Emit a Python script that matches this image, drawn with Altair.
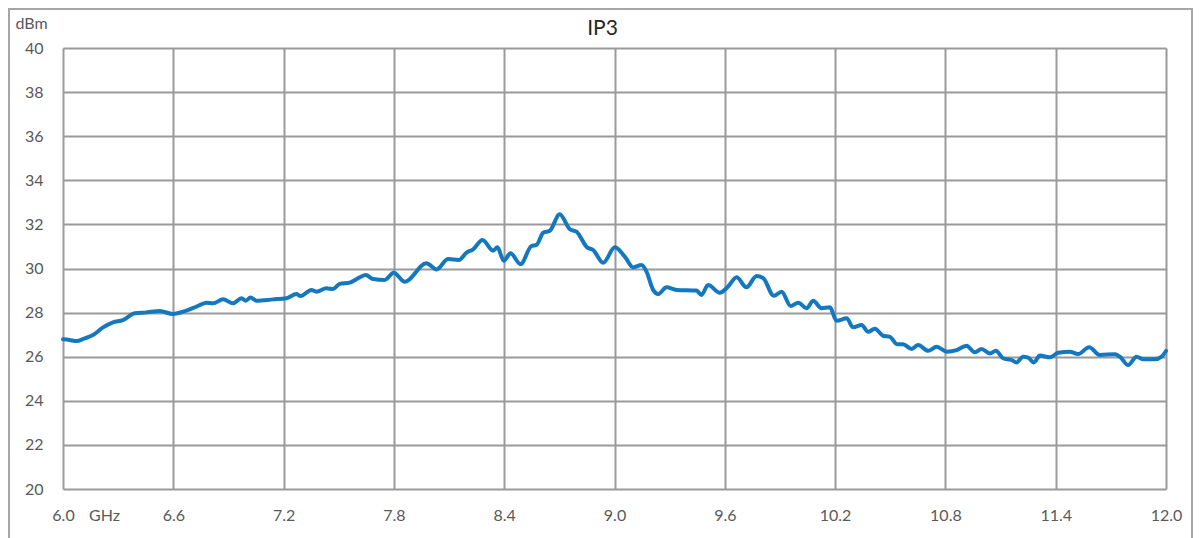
import altair as alt
import pandas as pd

# Frequency (GHz) and IP3 (dBm)
freq = [6.000, 6.036, 6.073, 6.118, 6.163, 6.218, 6.272, 6.326, 6.390, 6.454,
        6.526, 6.598, 6.653, 6.726, 6.780, 6.816, 6.871, 6.925, 6.971, 6.994,
        7.020, 7.052, 7.143, 7.215, 7.270, 7.292, 7.351, 7.379, 7.433, 7.469,
        7.505, 7.560, 7.614, 7.647, 7.687, 7.750, 7.799, 7.859, 7.977, 8.032,
        8.095, 8.154, 8.195, 8.231, 8.282, 8.340, 8.363, 8.398, 8.434, 8.489,
        8.548, 8.576, 8.612, 8.648, 8.702, 8.757, 8.793, 8.851, 8.884, 8.938,
        9.002, 9.056, 9.101, 9.147, 9.174, 9.210, 9.237, 9.283, 9.337, 9.446,
        9.473, 9.509, 9.573, 9.618, 9.664, 9.718, 9.773, 9.809, 9.867, 9.909,
        9.958, 9.999, 10.045, 10.081, 10.126, 10.172, 10.208, 10.263, 10.298, 10.344,
        10.380, 10.416, 10.461, 10.498, 10.539, 10.570, 10.616, 10.652, 10.706, 10.752,
        10.807, 10.861, 10.915, 10.960, 10.997, 11.042, 11.075, 11.114, 11.160, 11.187,
        11.223, 11.250, 11.281, 11.314, 11.368, 11.414, 11.477, 11.522, 11.582, 11.640,
        11.722, 11.749, 11.794, 11.840, 11.877, 11.939, 11.976, 12.000]

ip3 = [26.79, 26.76, 26.71, 26.83, 26.98, 27.33, 27.56, 27.66, 27.97, 28.01,
       28.07, 27.94, 28.04, 28.27, 28.45, 28.42, 28.60, 28.42, 28.65, 28.54,
       28.68, 28.54, 28.60, 28.65, 28.84, 28.75, 29.03, 28.95, 29.10, 29.07,
       29.30, 29.36, 29.60, 29.70, 29.52, 29.48, 29.81, 29.40, 30.24, 29.96,
       30.43, 30.39, 30.72, 30.87, 31.29, 30.81, 30.96, 30.35, 30.69, 30.20,
       31.02, 31.07, 31.62, 31.71, 32.46, 31.78, 31.67, 30.96, 30.84, 30.26,
       30.96, 30.54, 30.05, 30.16, 29.86, 29.03, 28.84, 29.15, 29.03, 29.00,
       28.80, 29.25, 28.90, 29.18, 29.60, 29.15, 29.66, 29.56, 28.76, 28.95,
       28.30, 28.45, 28.20, 28.54, 28.20, 28.24, 27.63, 27.74, 27.33, 27.44,
       27.13, 27.27, 26.95, 26.90, 26.56, 26.56, 26.35, 26.53, 26.27, 26.45,
       26.23, 26.30, 26.50, 26.20, 26.35, 26.15, 26.27, 25.93, 25.85, 25.74,
       26.00, 25.96, 25.74, 26.05, 25.97, 26.18, 26.23, 26.12, 26.43, 26.08,
       26.11, 26.00, 25.62, 26.00, 25.88, 25.88, 26.00, 26.26]

x_ticks = [6.0, 6.6, 7.2, 7.8, 8.4, 9.0, 9.6, 10.2, 10.8, 11.4, 12.0]
y_ticks = [20, 22, 24, 26, 28, 30, 32, 34, 36, 38, 40]
title_text = ["IP3"]

df = pd.DataFrame({"f": freq, "v": ip3})

FONT = "Lato"
GRID = "#9a9a9a"
LABEL = "#595959"

line = alt.Chart(df).mark_line(
    color="#1378BF", strokeWidth=4, interpolate="monotone",
    strokeJoin="round", strokeCap="round"
).encode(
    x=alt.X("f:Q",
            scale=alt.Scale(domain=[6, 12], nice=False, zero=False),
            axis=alt.Axis(values=x_ticks, format=".1f", grid=True, ticks=False,
                          gridColor=GRID, gridWidth=2, gridOpacity=1,
                          domain=False, labelFontSize=16, labelColor=LABEL,
                          labelFont=FONT, labelBaseline="middle", labelPadding=26,
                          labelFlush=False,
                          title="GHz", titleFont=FONT, titleFontSize=16,
                          titleFontWeight="normal", titleColor=LABEL,
                          titleX=41, titleY=26, titleAlign="center",
                          titleBaseline="middle")),
    y=alt.Y("v:Q",
            scale=alt.Scale(domain=[20, 40], nice=False, zero=False),
            axis=alt.Axis(values=y_ticks, grid=True, ticks=False, domain=False,
                          gridColor=GRID, gridWidth=2, gridOpacity=1,
                          labelFontSize=16, labelColor=LABEL, labelFont=FONT,
                          labelPadding=20, labelFlush=False,
                          title="dBm", titleFont=FONT, titleFontSize=16,
                          titleFontWeight="normal", titleColor=LABEL,
                          titleAngle=0, titleX=-48, titleY=-25,
                          titleAlign="left", titleBaseline="middle")),
)

frame = alt.Chart(pd.DataFrame({"k": [0]})).mark_rect(
    fill=None, stroke="#a6a6a6", strokeWidth=2, clip=False
).encode(
    x=alt.value(-54), x2=alt.value(1129),
    y=alt.value(-39), y2=alt.value(560),
)

title = alt.Chart(pd.DataFrame({"t": title_text})).mark_text(
    font=FONT, fontSize=21, color="#262626", baseline="middle", align="center",
    clip=False
).encode(
    text="t:N", x=alt.value(539.5), y=alt.value(-19.5),
)

chart = alt.layer(frame, line, title).properties(
    width=1103, height=441,
    autosize=alt.AutoSizeParams(type="none"),
    padding={"left": 55, "top": 40, "right": 28, "bottom": 49},
).configure_view(
    stroke=GRID, strokeWidth=2
).configure(background="white")

chart.save("out.html", embed_options={"renderer": "svg", "actions": False})
